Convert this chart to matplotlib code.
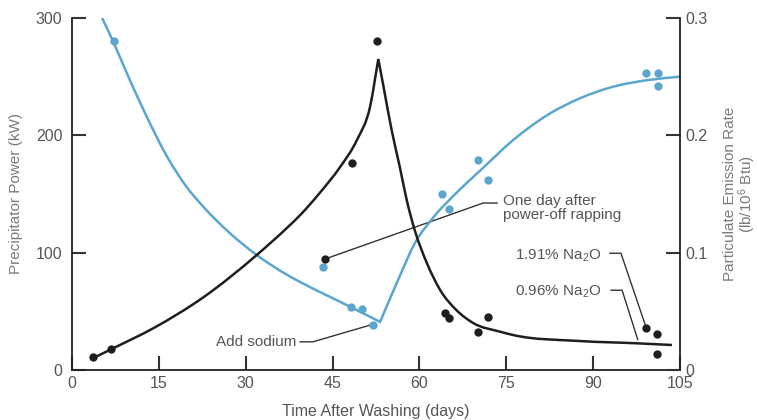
import matplotlib
matplotlib.use("Agg")
import matplotlib.pyplot as plt
from matplotlib.path import Path
from matplotlib.patches import PathPatch

plt.rcParams['font.family'] = ['Liberation Sans', 'DejaVu Sans']
plt.rcParams['mathtext.default'] = 'regular'

# ---- data ----
# Precipitator power (kW), left axis - blue
power_pts_x = [7.3, 43.4, 48.2, 50.1, 52.0, 63.9, 65.1, 70.1, 71.8, 99.1, 101.2, 101.2]
power_pts_y = [280, 88, 54, 52, 38, 150, 137, 179, 162, 253, 253, 242]
power_curve_x = [5.2, 7.1, 10.0, 12.9, 16.4, 19.8, 22.7, 27.3, 31.9, 36.5, 39.4, 42.8, 45.1, 48.0,
                 53.2, 56.6, 59.2, 62.4, 66.4, 70.5, 76.2, 82.0, 87.7, 93.5, 99.3, 105.0]
power_curve_y = [300, 280, 247, 216, 182, 156, 139, 116.5, 98, 83, 75, 66.5, 61, 54,
                 41, 80, 108, 130, 151, 170, 196, 217, 231.5, 241.5, 247, 250]
power_cusp = 14  # index of the "add sodium" corner

# Particulate emission rate (lb/10^6 Btu), right axis - black
emis_pts_x = [3.6, 6.7, 48.4, 52.7, 43.7, 64.4, 65.1, 70.1, 71.8, 99.1, 101.0, 101.0]
emis_pts_y = [0.011, 0.018, 0.176, 0.280, 0.095, 0.049, 0.044, 0.032, 0.045, 0.036, 0.031, 0.014]
emis_curve_x = [3.6, 6.9, 14.0, 22.7, 31.9, 37.1, 39.4, 42.8, 46.3, 49.2, 51.5, 52.9,
                53.8, 55.2, 56.6, 57.8, 59.2, 61.3, 63.6, 66.4, 69.3, 73.9, 76.2, 87.7, 97.8, 103.6]
emis_curve_y = [0.010, 0.018, 0.0355, 0.062, 0.098, 0.121, 0.132, 0.151, 0.173, 0.196, 0.225, 0.265,
                0.2415, 0.2045, 0.1733, 0.145, 0.119, 0.091, 0.068, 0.051, 0.040, 0.0327, 0.0298, 0.0247, 0.0227, 0.0213]
emis_cusp = 11  # index of the peak

x_ticks = [0, 15, 30, 45, 60, 75, 90, 105]
power_ticks = [0, 100, 200, 300]
emis_ticks = [0, 0.1, 0.2, 0.3]
emis_tick_labels = ['0', '0.1', '0.2', '0.3']

BLUE = '#5aa6cc'
BLACK = '#1e1e1e'
TXT = '#555555'
LAB = '#7a7a7a'


def smooth_path(xs, ys, cusp):
    """Smooth Hermite path (parameterised by x) through the given points,
    with a sharp corner at index `cusp`."""
    n = len(xs)
    d = [(ys[i + 1] - ys[i]) / (xs[i + 1] - xs[i]) for i in range(n - 1)]
    m = [0.0] * n
    for i in range(n):
        if i == 0:
            m[i] = d[0]
        elif i == n - 1:
            m[i] = d[-1]
        elif i == cusp:
            m[i] = None
        else:
            h0 = xs[i] - xs[i - 1]
            h1 = xs[i + 1] - xs[i]
            m[i] = (h1 * d[i - 1] + h0 * d[i]) / (h0 + h1)
    verts = [(xs[0], ys[0])]
    codes = [Path.MOVETO]
    for i in range(n - 1):
        h = xs[i + 1] - xs[i]
        ms = m[i] if m[i] is not None else d[i]          # leaving the cusp
        me = m[i + 1] if m[i + 1] is not None else d[i]  # arriving at the cusp
        c1 = (xs[i] + h / 3.0, ys[i] + ms * h / 3.0)
        c2 = (xs[i + 1] - h / 3.0, ys[i + 1] - me * h / 3.0)
        verts += [c1, c2, (xs[i + 1], ys[i + 1])]
        codes += [Path.CURVE4] * 3
    return Path(verts, codes)


fig = plt.figure(figsize=(7.57, 4.2), dpi=100)
ax = fig.add_axes([72/757, 1-370/420, (680-72)/757, (370-18)/420])
ax2 = ax.twinx()

ax.set_xlim(0, 105)
ax.set_ylim(0, 300)
ax2.set_ylim(0, 0.3)

ax.add_patch(PathPatch(smooth_path(power_curve_x, power_curve_y, power_cusp), fc='none',
                       ec=BLUE, lw=1.8, joinstyle='miter', capstyle='butt', zorder=3))
ax.plot(power_pts_x, power_pts_y, 'o', color=BLUE, ms=6, mec='none', zorder=4)
ax2.add_patch(PathPatch(smooth_path(emis_curve_x, emis_curve_y, emis_cusp), fc='none',
                        ec=BLACK, lw=1.8, joinstyle='miter', capstyle='butt', zorder=3))
ax2.plot(emis_pts_x, emis_pts_y, 'o', color=BLACK, ms=6, mec='none', zorder=4)

# spines
for a in (ax, ax2):
    a.spines['top'].set_visible(False)
ax.spines['right'].set_visible(False)
ax2.spines['left'].set_visible(False)
ax2.spines['bottom'].set_visible(False)
for s in ('left', 'bottom'):
    ax.spines[s].set_linewidth(1.3)
    ax.spines[s].set_color('#222222')
ax2.spines['right'].set_linewidth(1.3)
ax2.spines['right'].set_color('#222222')

ax.set_xticks(x_ticks)
ax.set_yticks(power_ticks)
ax2.set_yticks(emis_ticks)
ax2.set_yticklabels(emis_tick_labels)

ax.tick_params(axis='both', direction='in', length=10, width=1.5, color='#333333',
               labelsize=11.5, labelcolor=TXT)
ax.tick_params(axis='y', pad=7)
ax.tick_params(axis='x', pad=4)
ax2.tick_params(axis='y', direction='in', length=10, width=1.5, color='#333333',
                labelsize=11.5, labelcolor=TXT, pad=4)

ax.set_xlabel('Time After Washing (days)', fontsize=11.5, color=TXT, labelpad=10)
ax.set_ylabel('Precipitator Power (kW)', fontsize=11, color=LAB, labelpad=9)
ax2.set_ylabel('Particulate Emission Rate\n(lb/10$^6$ Btu)', fontsize=11, color=LAB,
               labelpad=11, linespacing=0.95)

# annotations (in power-axis units)
lc = '#333333'
ax.plot([39.4, 41.6, 52.0], [24, 24, 39], color=lc, lw=1.0, zorder=2)
ax.text(38.8, 24, 'Add sodium', ha='right', va='center', fontsize=11, color=TXT)

ax.plot([43.7, 71.0, 73.4], [94.6, 142.3, 142.3], color=lc, lw=1.0, zorder=2)
ax.text(74.5, 138, 'One day after\npower-off rapping', ha='left', va='center',
        fontsize=11, color=TXT, linespacing=1.05)

ax.plot([92.9, 94.8, 99.1], [99.5, 99.5, 37], color=lc, lw=1.0, zorder=2)
ax.text(91.5, 97, '1.91% Na$_2$O', ha='right', va='center', fontsize=11, color=TXT)

ax.plot([93.1, 95.0, 97.7], [68, 68, 26], color=lc, lw=1.0, zorder=2)
ax.text(91.5, 67, '0.96% Na$_2$O', ha='right', va='center', fontsize=11, color=TXT)

fig.savefig('out.png', dpi=100)
